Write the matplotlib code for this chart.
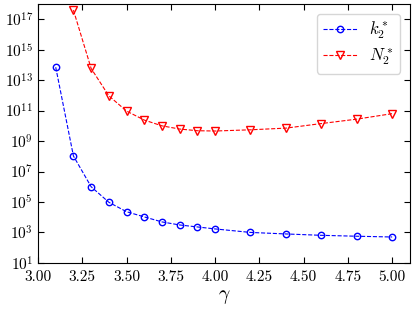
import matplotlib
matplotlib.use("Agg")
import matplotlib.pyplot as plt
import numpy as np

plt.rcParams['font.family'] = 'serif'
plt.rcParams['font.serif'] = ['cmr10']
plt.rcParams['mathtext.fontset'] = 'cm'
plt.rcParams['axes.formatter.use_mathtext'] = True
plt.rcParams['axes.unicode_minus'] = False

# k2* (blue circles)
gamma_k = [3.1, 3.2, 3.3, 3.4, 3.5, 3.6, 3.7, 3.8, 3.9, 4.0, 4.2, 4.4, 4.6, 4.8, 5.0]
logk = [13.85, 8.02, 6.0, 4.98, 4.36, 4.02, 3.69, 3.49, 3.36, 3.23, 3.0, 2.9, 2.81, 2.75, 2.7]

# N2* (red triangles)
gamma_N = [3.2, 3.3, 3.4, 3.5, 3.6, 3.7, 3.8, 3.9, 4.0, 4.2, 4.4, 4.6, 4.8, 5.0]
logN = [17.6, 13.77, 11.97, 10.97, 10.38, 10.0, 9.79, 9.68, 9.66, 9.74, 9.85, 10.15, 10.44, 10.8]

k2 = 10.0 ** np.array(logk)
N2 = 10.0 ** np.array(logN)

fig = plt.figure(figsize=(4.15, 3.1), dpi=100)
ax = fig.add_axes([0.0916, 0.152, 0.896, 0.835])

ax.plot(gamma_k, k2, 'b--o', mfc='none', ms=4.6, lw=0.8, mew=1.0, label=r'$k_2^*$')
ax.plot(gamma_N, N2, 'r--v', mfc='none', ms=5.5, lw=0.8, mew=1.0, label=r'$N_2^*$')

ax.set_yscale('log')
ax.set_xlim(3.0, 5.1)
ax.set_ylim(1e1, 1e18)
ax.set_xticks([3.0, 3.25, 3.5, 3.75, 4.0, 4.25, 4.5, 4.75, 5.0])
ax.set_xticklabels(['3.00', '3.25', '3.50', '3.75', '4.00', '4.25', '4.50', '4.75', '5.00'])
ax.set_yticks([10.0 ** p for p in range(1, 18, 2)])
ax.set_yticklabels([r'$10^{%d}$' % p for p in range(1, 18, 2)])
ax.yaxis.set_minor_locator(matplotlib.ticker.NullLocator())
ax.tick_params(direction='in', top=True, right=True, labelsize=11, length=4)
ax.tick_params(axis='x', pad=5)
ax.set_xlabel(r'$\gamma$', fontsize=14, labelpad=3)

ax.legend(loc='upper right', fontsize=12, fancybox=True, framealpha=0.8,
          handlelength=2.1, handletextpad=0.7, borderpad=0.35, labelspacing=0.35,
          borderaxespad=0.6)

fig.savefig('out.png', dpi=100)
